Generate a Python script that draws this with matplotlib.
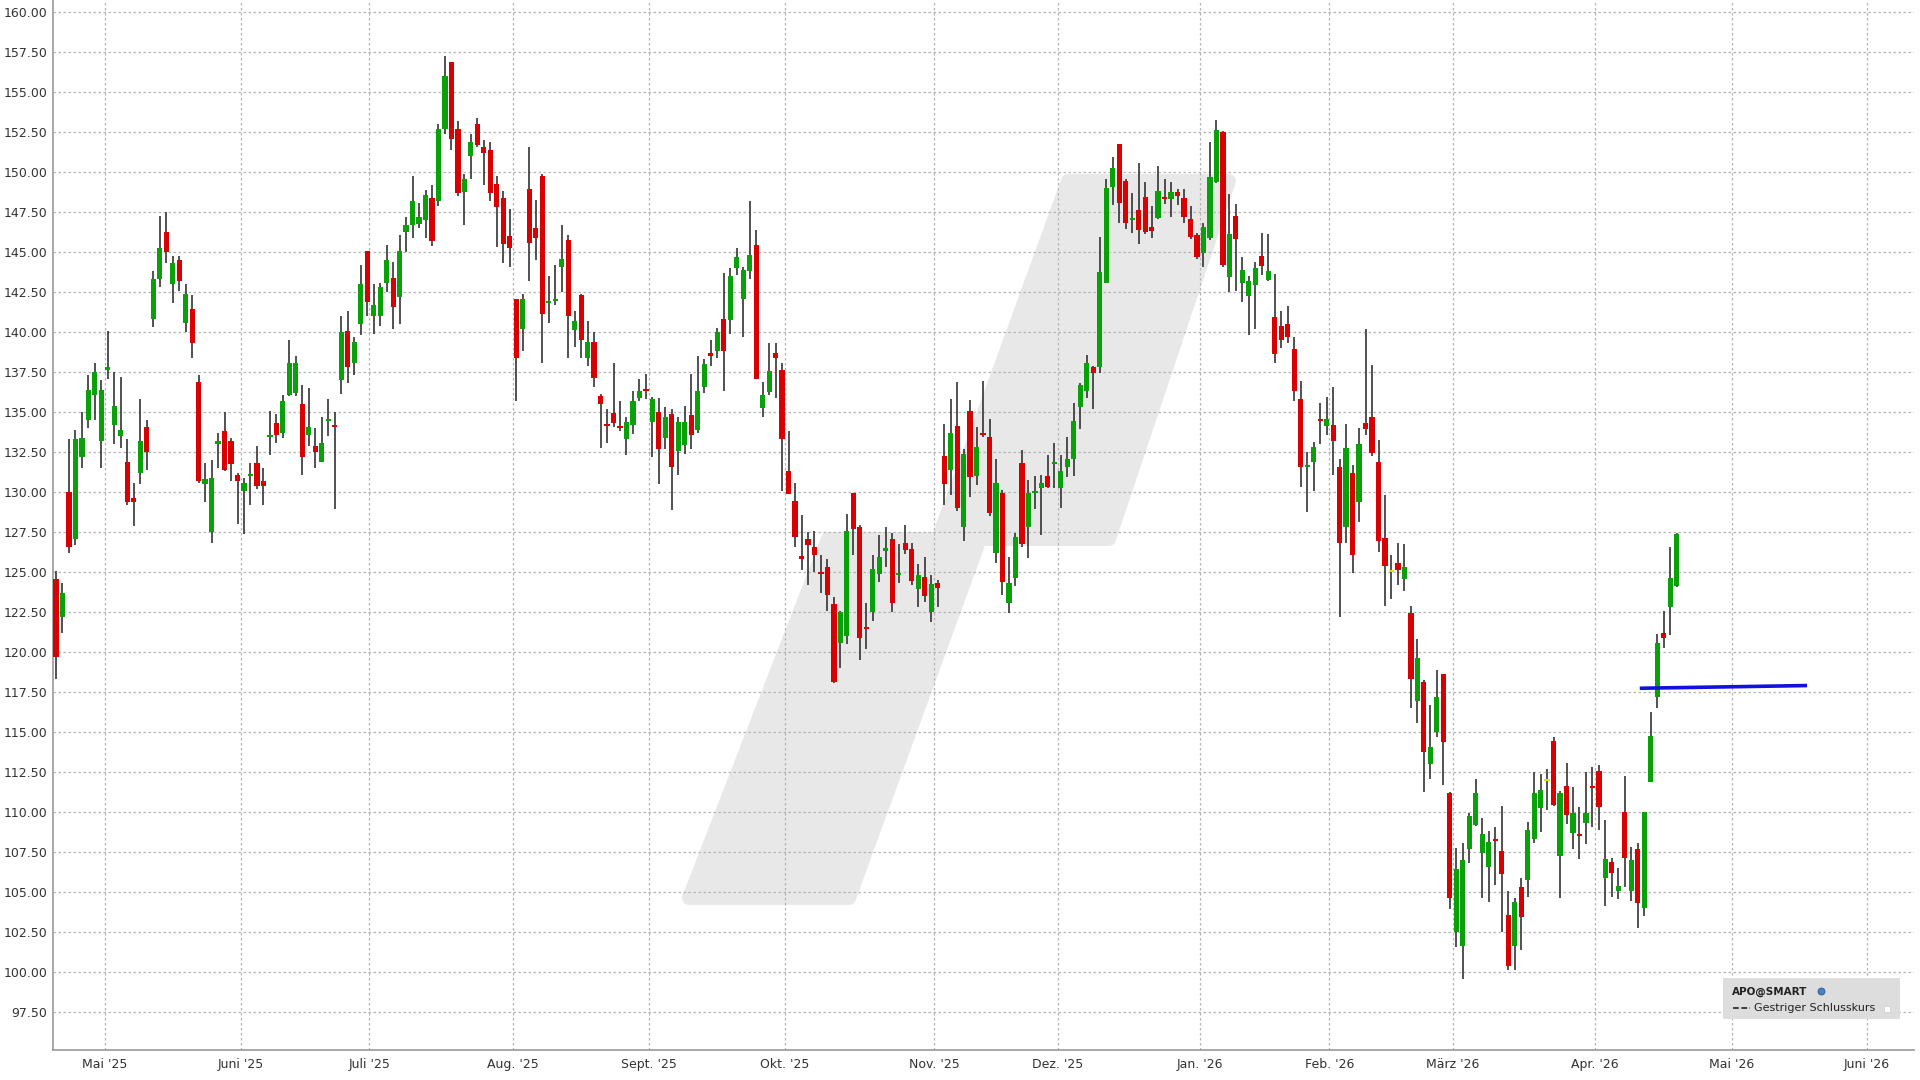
import matplotlib
matplotlib.use("Agg")
import matplotlib.pyplot as plt
import numpy as np
from matplotlib.patches import Polygon, Rectangle
from matplotlib.lines import Line2D

# daily OHLC, one entry per trading day (index 0 = first candle)
opens = [
    124.6, 122.2, 130.0, 127.1, 132.2, 134.5, 136.1, 133.2, 137.65, 134.2,
    133.5, 131.9, 129.65, 131.2, 134.1, 140.8, 143.3, 146.3, 143.0, 144.5,
    140.56, 141.44, 136.9, 130.5, 127.5, 133.0, 133.8, 133.2, 131.1, 130.1,
    131.0, 131.8, 130.7, 133.45, 134.3, 133.7, 136.1, 136.2, 135.5, 133.55,
    132.9, 131.9, 134.45, 134.15, 137.0, 140.06, 138.1, 140.5, 145.06, 141.0,
    141.0, 143.1, 143.4, 142.2, 146.3, 146.7, 146.8, 147.0, 148.4, 148.2,
    152.7, 156.9, 152.7, 148.8, 151.0, 153.0, 151.6, 151.4, 149.3, 148.4,
    146.0, 142.05, 140.2, 148.96, 146.5, 149.8, 141.85, 141.95, 144.1, 145.8,
    140.15, 142.3, 138.4, 139.4, 136.0, 134.25, 134.96, 134.1, 133.3, 134.2,
    135.87, 136.4, 134.4, 135.04, 133.4, 134.9, 132.6, 132.96, 134.8, 133.9,
    136.6, 138.7, 138.8, 140.8, 140.77, 144.0, 142.1, 143.85, 145.46, 135.25,
    136.25, 138.7, 137.65, 131.35, 129.46, 126.0, 127.1, 126.6, 125.0, 125.3,
    123.0, 120.56, 121.0, 129.93, 127.8, 121.6, 122.54, 124.89, 126.3, 127.1,
    124.83, 126.85, 126.45, 123.93, 124.68, 122.5, 124.35, 132.27, 131.4, 134.14,
    127.8, 135.08, 131.0, 133.65, 133.43, 126.18, 129.97, 123.06, 124.66, 131.8,
    127.8, 129.94, 130.25, 131.02, 131.75, 130.25, 131.6, 132.06, 135.3, 136.35,
    137.85, 137.85, 143.1, 149.1, 151.8, 149.46, 147.0, 147.65, 148.48, 146.6,
    147.17, 148.45, 148.33, 148.8, 148.42, 147.08, 146.08, 144.98, 145.9, 149.42,
    152.54, 143.44, 147.27, 143.06, 142.29, 142.96, 144.79, 143.27, 140.98, 140.42,
    140.5, 138.96, 135.83, 131.6, 131.92, 134.58, 134.17, 134.21, 131.56, 127.85,
    131.23, 129.42, 134.35, 134.73, 131.92, 127.12, 125.0, 125.6, 124.55, 122.46,
    116.95, 118.13, 113.04, 115.0, 118.63, 111.2, 102.54, 101.65, 107.71, 109.19,
    107.43, 106.59, 108.3, 107.6, 103.6, 101.65, 105.34, 105.75, 108.35, 110.25,
    111.93, 114.44, 107.29, 111.65, 108.72, 108.65, 109.33, 111.62, 112.6, 105.92,
    106.87, 105.1, 110.0, 105.1, 107.69, 104.0, 111.87, 117.19, 121.23, 122.85,
    124.15,
]
highs = [
    125.1, 124.3, 133.3, 133.9, 135.0, 137.3, 138.1, 137.0, 140.1, 137.5,
    137.2, 133.3, 130.6, 135.8, 134.5, 143.8, 147.3, 147.5, 144.8, 144.8,
    143.0, 142.3, 137.3, 131.8, 132.0, 133.7, 135.0, 133.4, 131.2, 130.9,
    131.8, 132.9, 131.5, 135.1, 134.9, 136.1, 139.5, 138.5, 136.7, 136.5,
    134.0, 134.7, 135.8, 135.0, 141.0, 141.3, 139.7, 144.2, 145.1, 143.0,
    143.1, 145.46, 144.4, 146.1, 147.2, 149.8, 148.1, 148.9, 149.2, 153.0,
    157.3, 156.9, 153.2, 149.9, 152.4, 153.4, 152.0, 151.9, 149.75, 148.85,
    147.7, 142.1, 142.4, 151.6, 148.3, 149.9, 143.5, 144.2, 146.7, 146.1,
    141.35, 142.4, 140.7, 140.0, 136.15, 135.2, 138.1, 135.7, 134.7, 136.35,
    137.1, 137.4, 135.98, 135.9, 135.3, 135.2, 134.7, 135.4, 137.4, 138.5,
    138.3, 139.5, 140.25, 143.7, 144.0, 145.3, 144.06, 148.2, 146.4, 136.9,
    139.35, 139.35, 138.06, 133.8, 130.6, 128.6, 127.5, 127.6, 126.08, 125.8,
    123.43, 122.6, 128.64, 129.93, 127.95, 123.06, 126.08, 127.3, 127.85, 127.43,
    126.74, 127.95, 126.8, 125.5, 125.97, 124.83, 124.5, 134.27, 135.8, 136.9,
    132.68, 135.76, 134.1, 136.97, 134.6, 132.1, 130.14, 125.97, 127.47, 132.64,
    130.77, 131.02, 131.08, 132.33, 133.1, 132.33, 133.48, 135.56, 136.85, 138.6,
    137.9, 145.94, 149.56, 150.94, 151.8, 149.56, 148.69, 150.6, 149.42, 147.9,
    150.4, 149.56, 149.42, 148.94, 148.94, 147.9, 146.2, 146.85, 151.92, 153.3,
    152.6, 148.65, 148.02, 144.69, 143.52, 144.42, 146.19, 146.15, 143.65, 141.33,
    141.67, 139.69, 136.98, 132.5, 133.13, 135.56, 135.98, 136.56, 132.08, 134.27,
    131.71, 134.0, 140.19, 137.96, 133.27, 129.83, 126.08, 126.8, 126.75, 122.88,
    120.84, 118.27, 116.68, 118.9, 118.63, 111.28, 107.79, 108.07, 109.94, 112.07,
    109.66, 108.83, 109.05, 110.36, 105.06, 104.66, 105.89, 109.39, 112.54, 112.4,
    112.68, 114.69, 111.34, 113.1, 111.56, 110.31, 112.54, 112.82, 112.96, 109.52,
    107.12, 106.5, 112.29, 107.85, 108.06, 110.0, 116.25, 121.12, 122.6, 126.6,
    127.44,
]
lows = [
    118.3, 121.2, 126.2, 126.7, 131.5, 134.0, 134.5, 131.5, 137.1, 133.0,
    132.75, 129.2, 127.9, 130.5, 131.4, 140.3, 142.8, 144.3, 141.8, 142.6,
    140.0, 138.4, 130.6, 129.4, 126.8, 131.5, 131.3, 130.7, 128.0, 127.4,
    129.2, 130.2, 129.2, 132.3, 133.1, 133.4, 136.0, 136.0, 131.1, 132.9,
    131.5, 131.9, 133.5, 128.95, 136.15, 136.8, 137.3, 139.85, 141.0, 139.9,
    140.4, 142.5, 140.2, 140.5, 145.0, 145.9, 146.5, 145.9, 145.4, 147.9,
    152.4, 151.4, 148.5, 146.7, 149.6, 151.6, 149.2, 148.2, 145.35, 144.3,
    144.1, 135.7, 138.85, 143.2, 144.5, 138.1, 140.6, 141.7, 142.5, 138.4,
    139.06, 138.4, 137.9, 136.56, 132.75, 133.1, 134.06, 133.85, 132.3, 133.65,
    135.7, 135.8, 132.2, 130.5, 132.7, 128.9, 131.1, 132.4, 132.7, 133.7,
    136.2, 137.9, 138.4, 136.3, 139.9, 143.6, 139.7, 143.3, 137.06, 134.7,
    136.1, 135.9, 130.1, 129.9, 126.6, 125.15, 124.2, 125.0, 123.7, 122.6,
    118.1, 119.0, 120.5, 126.08, 119.5, 120.2, 121.97, 124.4, 125.3, 122.5,
    124.35, 126.14, 124.2, 122.8, 123.16, 121.9, 122.85, 129.2, 129.8, 128.8,
    126.97, 129.72, 130.45, 133.43, 128.5, 125.56, 123.58, 122.43, 124.14, 126.6,
    125.9, 128.94, 127.33, 130.25, 130.25, 129.0, 130.98, 131.02, 133.94, 135.9,
    135.2, 137.48, 143.06, 147.96, 146.85, 146.44, 146.23, 145.5, 146.15, 145.9,
    147.06, 148.02, 147.23, 147.96, 146.81, 145.83, 144.56, 144.06, 145.77, 149.35,
    144.06, 142.54, 142.6, 141.92, 139.83, 140.19, 143.58, 143.23, 138.1, 139.04,
    139.35, 135.73, 130.35, 128.79, 130.1, 133.0, 133.58, 131.08, 122.2, 126.81,
    124.94, 128.17, 133.58, 132.27, 126.29, 122.9, 123.3, 124.2, 123.8, 116.54,
    115.56, 111.28, 112.07, 114.69, 111.7, 103.97, 101.56, 99.55, 106.82, 109.11,
    104.64, 104.36, 105.47, 102.49, 100.11, 100.11, 101.37, 104.72, 108.07, 108.77,
    110.17, 110.39, 104.64, 109.27, 107.71, 107.09, 107.99, 109.05, 108.91, 104.15,
    104.69, 104.56, 105.35, 104.48, 102.75, 103.52, 111.87, 116.5, 120.25, 121.08,
    124.06,
]
closes = [
    119.7, 123.7, 126.6, 133.3, 133.4, 136.4, 137.5, 136.4, 137.85, 135.4,
    133.9, 129.4, 129.4, 133.2, 132.5, 143.3, 145.3, 145.0, 144.3, 143.2,
    142.4, 139.3, 130.7, 130.8, 130.9, 133.2, 131.4, 131.75, 130.7, 130.6,
    131.15, 130.4, 130.4, 133.6, 133.6, 135.7, 138.1, 138.1, 132.2, 134.1,
    132.5, 133.1, 134.55, 134.05, 140.0, 137.8, 139.4, 143.0, 141.9, 141.7,
    142.8, 144.5, 141.6, 145.06, 146.7, 148.2, 147.2, 148.6, 145.7, 152.7,
    156.0, 152.1, 148.7, 149.6, 151.9, 151.7, 151.2, 148.7, 147.85, 145.5,
    145.3, 138.4, 142.05, 145.6, 145.9, 141.15, 141.95, 142.1, 144.6, 141.0,
    140.7, 139.5, 139.4, 137.15, 135.5, 134.15, 134.3, 134.0, 134.4, 135.7,
    136.35, 136.3, 135.85, 132.7, 134.73, 131.6, 134.4, 134.4, 133.6, 136.35,
    138.0, 138.5, 140.0, 138.8, 143.5, 144.7, 143.9, 144.83, 137.1, 136.1,
    137.6, 138.4, 133.3, 129.9, 127.2, 125.85, 126.7, 126.08, 124.88, 123.6,
    118.16, 122.5, 127.6, 127.7, 120.87, 121.45, 125.18, 125.97, 126.5, 123.1,
    124.97, 126.39, 124.47, 124.8, 123.5, 124.27, 124.0, 130.5, 133.7, 128.99,
    132.4, 130.93, 132.8, 133.55, 128.7, 130.6, 124.4, 124.3, 127.2, 126.76,
    129.97, 130.1, 130.6, 130.31, 131.85, 131.35, 132.06, 134.46, 136.7, 138.1,
    137.44, 143.79, 149.0, 150.25, 148.06, 146.81, 147.1, 146.4, 146.29, 146.35,
    148.83, 148.35, 148.8, 148.54, 147.23, 145.98, 144.73, 146.56, 149.73, 152.65,
    144.2, 146.12, 145.81, 143.9, 143.21, 144.04, 144.15, 143.83, 138.65, 139.52,
    139.73, 136.33, 131.6, 131.72, 132.85, 134.46, 134.56, 133.23, 126.81, 132.75,
    126.08, 133.0, 133.94, 132.48, 126.98, 125.42, 125.0, 125.15, 125.33, 118.35,
    119.66, 113.74, 114.08, 117.23, 114.41, 104.64, 106.45, 107.04, 109.75, 111.23,
    108.63, 108.13, 108.2, 106.12, 100.39, 104.39, 103.46, 108.86, 111.2, 111.37,
    111.93, 110.45, 111.23, 109.8, 109.94, 108.52, 109.94, 111.5, 110.31, 107.08,
    106.19, 105.4, 107.12, 107.02, 104.35, 110.0, 114.79, 120.56, 120.92, 124.62,
    127.4,
]

# month gridlines (position in trading-day index) and labels
month_pos = [7.5, 28.5, 48.3, 70.5, 91.4, 112.4, 135.45, 154.5, 176.45,
             196.4, 215.5, 237.4, 258.5, 279.3]
month_labels = ["Mai '25", "Juni '25", "Juli '25", "Aug. '25", "Sept. '25",
                "Okt. '25", "Nov. '25", "Dez. '25", "Jan. '26", "Feb. '26",
                "März '26", "Apr. '26", "Mai '26", "Juni '26"]

# blue horizontal line (start/end index, price)
line_x = [244.3, 270.1]
line_y = [117.75, 117.92]

W, H = 1920, 1080
fig = plt.figure(figsize=(W / 100, H / 100), dpi=100)
ax = fig.add_axes([53 / W, 30 / H, (1914 - 53) / W, 1050 / H])

o = np.array(opens)
hi = np.array(highs)
lo = np.array(lows)
c = np.array(closes)
x = np.arange(len(o))

# grey watermark shape behind the chart (figure pixel coords, y from top)
wm = [(689, 898), (849, 898), (980, 539), (1109, 539), (1229, 181),
      (1068, 181), (938, 539), (828, 539)]
wm_fig = [(px / W, 1 - py / H) for px, py in wm]
ax.add_patch(Polygon(wm_fig, closed=True, transform=fig.transFigure,
                     facecolor="#e8e8e8", edgecolor="#e8e8e8", lw=10,
                     joinstyle="round", zorder=0))

colors = np.where(c > o, "#0aa00a", np.where(c < o, "#d80000", "#e8e000"))
body_lo = np.minimum(o, c)
body_h = np.maximum(np.abs(c - o), 0.13)

ax.vlines(x, lo, hi, color="#333333", lw=1.2, zorder=2)
ax.bar(x, body_h, bottom=body_lo, width=0.8, color=colors, lw=0, zorder=3)

ax.plot(line_x, line_y, color="#1010e0", lw=2.6, zorder=4,
        solid_capstyle="butt")

ax.set_xlim(-0.46, 286.6)
ax.set_ylim(95.14, 160.77)

yt = np.arange(97.5, 160.01, 2.5)
ax.set_yticks(yt)
ax.set_yticklabels(["%.2f" % v for v in yt])
ax.set_xticks(month_pos)
ax.set_xticklabels(month_labels)
ax.tick_params(axis="both", length=0, labelsize=9, colors="#333333")
ax.tick_params(axis="y", pad=4)
ax.tick_params(axis="x", pad=6)

ax.set_axisbelow(True)
ax.grid(True, color="#b4b4b4", lw=0.9, linestyle=(0, (2, 2)))
for s in ["top", "right"]:
    ax.spines[s].set_visible(False)
for s in ["left", "bottom"]:
    ax.spines[s].set_color("#999999")
    ax.spines[s].set_linewidth(1.2)

# legend box
fig.patches.append(Rectangle((1723 / W, 1 - 1019 / H), 177 / W, 41 / H,
                             transform=fig.transFigure, facecolor="#dddddd",
                             edgecolor="none", zorder=5))
fig.text(1732 / W, 1 - 992 / H, "APO@SMART", fontsize=7.5, fontweight="bold",
         color="#222222", va="center", ha="left", zorder=6)
fig.lines.append(Line2D([1821 / W], [1 - 991 / H], marker="o", ms=5,
                        color="#4a7fc0", mec="#2a5a9a", mew=0.6,
                        transform=fig.transFigure, zorder=6))
fig.lines.append(Line2D([1733 / W, 1750 / W], [1 - 1008 / H, 1 - 1008 / H],
                        color="#222222", lw=1.2, linestyle=(0, (3.5, 1.5)),
                        transform=fig.transFigure, zorder=6))
fig.text(1754 / W, 1 - 1008 / H, "Gestriger Schlusskurs", fontsize=8,
         color="#222222", va="center", ha="left", zorder=6)
fig.patches.append(Rectangle((1884 / W, 1 - 1012 / H), 6 / W, 6 / H,
                             transform=fig.transFigure, facecolor="white",
                             edgecolor="#cccccc", lw=0.5, zorder=6))

fig.savefig("out.png", dpi=100)
